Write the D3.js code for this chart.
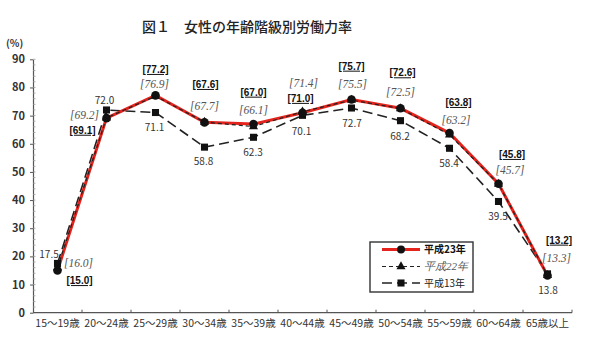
<!DOCTYPE html>
<html lang="ja">
<head>
<meta charset="utf-8">
<script src="https://cdn.jsdelivr.net/npm/d3@7/dist/d3.min.js"></script>
<style>
  html, body { margin: 0; padding: 0; background: #fff; }
  svg { display: block; }
</style>
</head>
<body>
<svg id="chart" width="600" height="338"></svg>
<script>
// Female labour force participation rate by age group (%)
const categories = ["15～19歳", "20～24歳", "25～29歳", "30～34歳", "35～39歳", "40～44歳",
                    "45～49歳", "50～54歳", "55～59歳", "60～64歳", "65歳以上"];
const seriesNames = ["平成23年", "平成22年", "平成13年"];
const valuesH23 = [15.0, 69.1, 77.2, 67.6, 67.0, 71.0, 75.7, 72.6, 63.8, 45.8, 13.2];
const valuesH22 = [16.0, 69.2, 76.9, 67.7, 66.1, 71.4, 75.5, 72.5, 63.2, 45.7, 13.3];
const valuesH13 = [17.5, 72.0, 71.1, 58.8, 62.3, 70.1, 72.7, 68.2, 58.4, 39.5, 13.8];
const yTicks = [0, 10, 20, 30, 40, 50, 60, 70, 80, 90];

// Label placement (offset from each point, in px) — layout only
const offsH23 = [[22, 10], [-24, 12], [0, -26], [1, -38], [0, -32], [-2, -14.5],
                 [0, -33.5], [2, -35.6], [9, -30.7], [13.5, -29.4], [11.5, -35.5]];
const offsH22 = [[21, -4], [-22, -2], [-1, -12], [0, -16], [0, -16], [1, -28],
                 [1, -16], [0, -16], [6.5, -14.7], [11.5, -14], [9, -17]];
const offsH13 = [[-8.5, -9], [-2, -9.5], [-1, 15], [-1, 14.6], [-0.5, 15.4], [-1, 15.7],
                 [0.5, 15.3], [-0.5, 16], [-0.5, 15], [-0.5, 15], [0.5, 17]];

const svg = d3.select("#chart");
const sans = "'Noto Sans CJK JP', 'Noto Sans', sans-serif";
const serif = "'Liberation Serif', 'DejaVu Serif', serif";

const x = d3.scaleBand().domain(categories).range([33, 572]).padding(0);
const y = d3.scaleLinear().domain([0, 90]).range([312.7, 59.3]);
const cx = c => x(c) + x.bandwidth() / 2;

// Title
svg.append("text")
  .attr("x", 247).attr("y", 31.5)
  .attr("text-anchor", "middle")
  .attr("font-family", sans).attr("font-size", 14).attr("font-weight", 500)
  .attr("fill", "#222")
  .text("図１　女性の年齢階級別労働力率");

svg.append("text")
  .attr("x", 6).attr("y", 47)
  .attr("font-family", sans).attr("font-size", 10).attr("font-weight", "bold")
  .attr("fill", "#333")
  .text("(%)");

// Y axis with minor ticks
const yAxisG = svg.append("g").attr("transform", "translate(33,0)")
  .call(d3.axisLeft(y).tickValues(yTicks).tickSize(3).tickSizeOuter(0).tickPadding(5));
yAxisG.select(".domain").attr("stroke", "#555").attr("stroke-width", 1.2);
yAxisG.selectAll(".tick line").attr("stroke", "#555");
yAxisG.selectAll(".tick text")
  .attr("font-family", sans).attr("font-size", 11).attr("font-weight", "bold").attr("fill", "#333");
svg.append("g").selectAll("line")
  .data(d3.range(0, 91, 2))
  .join("line")
  .attr("x1", 33).attr("x2", 35.5)
  .attr("y1", d => y(d)).attr("y2", d => y(d))
  .attr("stroke", "#999").attr("stroke-width", 0.8);

// X axis: ticks at band boundaries, pointing up
const xAxisG = svg.append("g").attr("transform", `translate(0,${y(0)})`);
xAxisG.append("line")
  .attr("x1", 33).attr("x2", 572).attr("stroke", "#555").attr("stroke-width", 1.2);
xAxisG.selectAll("line.b")
  .data(categories)
  .join("line").attr("class", "b")
  .attr("x1", d => x(d) + x.bandwidth()).attr("x2", d => x(d) + x.bandwidth())
  .attr("y1", 0).attr("y2", -3)
  .attr("stroke", "#555");
xAxisG.selectAll("text")
  .data(categories)
  .join("text")
  .attr("x", d => cx(d)).attr("y", 14)
  .attr("text-anchor", "middle")
  .attr("font-family", sans).attr("font-size", 10.5).attr("fill", "#333")
  .text(d => d);

const line = d3.line().x((d, i) => cx(categories[i])).y(d => y(d));

// H13: long dashes
svg.append("path").datum(valuesH13)
  .attr("d", line).attr("fill", "none")
  .attr("stroke", "#222").attr("stroke-width", 1.6).attr("stroke-dasharray", "10,5");
// H23: red solid
svg.append("path").datum(valuesH23)
  .attr("d", line).attr("fill", "none")
  .attr("stroke", "#e3231c").attr("stroke-width", 3);
// H22: short dashes over
svg.append("path").datum(valuesH22)
  .attr("d", line).attr("fill", "none")
  .attr("stroke", "#222").attr("stroke-width", 1.2).attr("stroke-dasharray", "4,3");

// Markers
const sq = d3.symbol().type(d3.symbolSquare).size(50);
const tri = d3.symbol().type(d3.symbolTriangle).size(36);
svg.append("g").selectAll("path")
  .data(valuesH13).join("path")
  .attr("transform", (d, i) => `translate(${cx(categories[i])},${y(d)})`)
  .attr("d", sq).attr("fill", "#111");
svg.append("g").selectAll("path")
  .data(valuesH22).join("path")
  .attr("transform", (d, i) => `translate(${cx(categories[i])},${y(d)})`)
  .attr("d", tri).attr("fill", "#111");
svg.append("g").selectAll("circle")
  .data(valuesH23).join("circle")
  .attr("cx", (d, i) => cx(categories[i])).attr("cy", d => y(d))
  .attr("r", 4.3).attr("fill", "#111");

// Value labels
function labels(vals, offs, fmt, attrs) {
  const g = svg.append("g");
  const t = g.selectAll("text").data(vals).join("text")
    .attr("x", (d, i) => cx(categories[i]) + offs[i][0])
    .attr("y", (d, i) => y(d) + offs[i][1] + 3.6)
    .attr("text-anchor", "middle")
    .text(fmt);
  Object.entries(attrs).forEach(([k, v]) => t.attr(k, v));
  return t;
}
labels(valuesH13, offsH13, d => d.toFixed(1),
  { "font-family": sans, "font-size": 10, "fill": "#333" });
labels(valuesH22, offsH22, d => `[${d.toFixed(1)}]`,
  { "font-family": serif, "font-size": 11.5, "font-style": "italic", "fill": "#555" });
labels(valuesH23, offsH23, d => `[${d.toFixed(1)}]`,
  { "font-family": "'Liberation Sans', Arial, sans-serif", "font-size": 10, "font-weight": "bold",
    "fill": "#111", "text-decoration": "underline" });

// Legend
const lg = svg.append("g");
lg.append("rect")
  .attr("x", 370).attr("y", 242).attr("width", 103).attr("height", 50)
  .attr("fill", "#fff").attr("stroke", "#333").attr("stroke-width", 1.4);
const legendRows = [
  { name: seriesNames[0], ly: 249.5, stroke: "#e3231c", w: 3, dash: null, mark: "circle",
    font: sans, weight: "bold", style: "normal", color: "#111" },
  { name: seriesNames[1], ly: 266.5, stroke: "#222", w: 1.2, dash: "4,3", mark: "tri",
    font: serif, weight: "normal", style: "italic", color: "#555" },
  { name: seriesNames[2], ly: 283, stroke: "#222", w: 1.6, dash: "10,5", mark: "sq",
    font: sans, weight: "normal", style: "normal", color: "#222" }
];
legendRows.forEach(r => {
  lg.append("line")
    .attr("x1", 382).attr("x2", 420).attr("y1", r.ly).attr("y2", r.ly)
    .attr("stroke", r.stroke).attr("stroke-width", r.w)
    .attr("stroke-dasharray", r.dash);
  if (r.mark === "circle") {
    lg.append("circle").attr("cx", 401).attr("cy", r.ly).attr("r", 4).attr("fill", "#111");
  } else {
    lg.append("path").attr("transform", `translate(401,${r.ly})`)
      .attr("d", r.mark === "tri" ? tri : sq).attr("fill", "#111");
  }
  lg.append("text")
    .attr("x", 424).attr("y", r.ly + 3.6)
    .attr("font-family", r.font).attr("font-size", r.style === "italic" ? 11 : 10)
    .attr("font-weight", r.weight).attr("font-style", r.style)
    .attr("fill", r.color)
    .text(r.name);
});
</script>
</body>
</html>
